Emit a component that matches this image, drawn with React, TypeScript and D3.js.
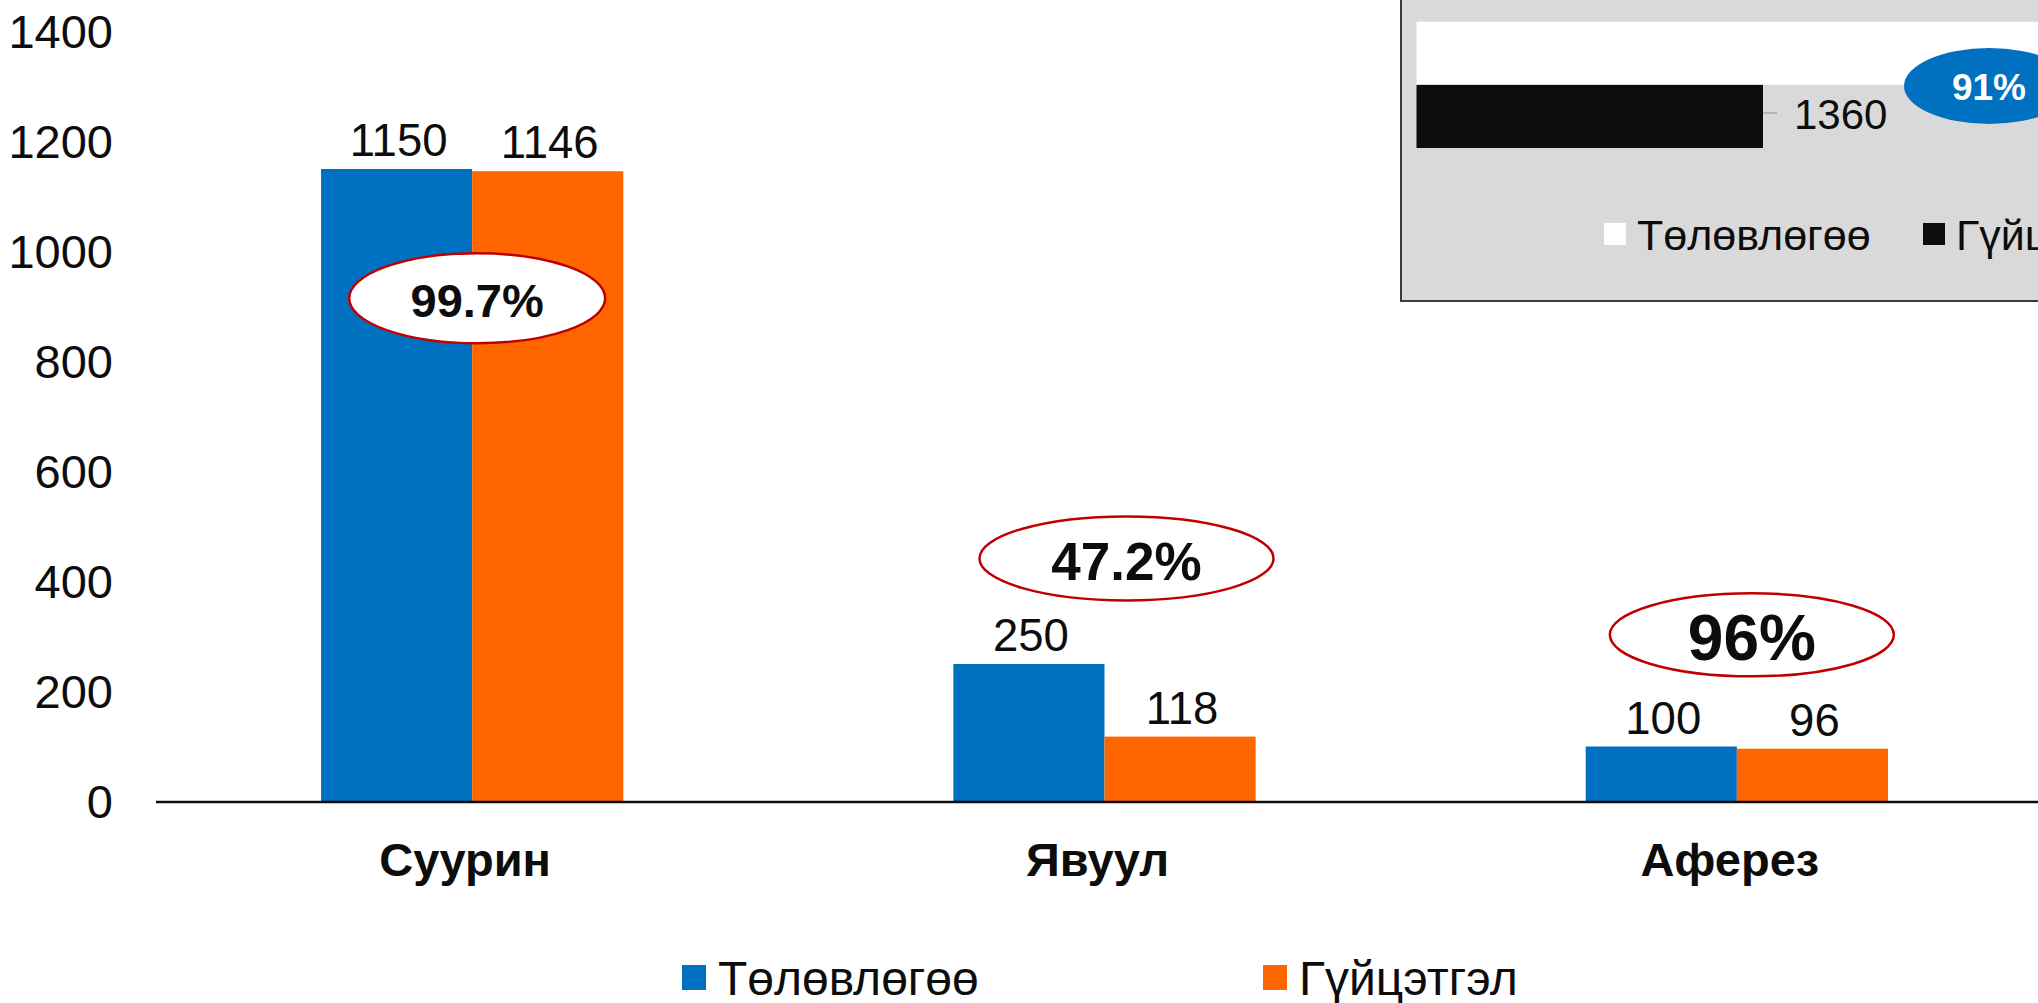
import React, { useEffect } from "react";
import * as d3 from "d3";

// ---- data ----
const categories = ["Суурин", "Явуул", "Аферез"];
const seriesNames = ["Төлөвлөгөө", "Гүйцэтгэл"];
const planValues = [1150, 250, 100];
const actualValues = [1146, 118, 96];
const percentLabels = ["99.7%", "47.2%", "96%"];
const yTicks = [0, 200, 400, 600, 800, 1000, 1200, 1400];

const insetCategories = ["Төлөвлөгөө", "Гүйцэтгэл"];
const insetValues = [1500, 1360];
const insetPercent = "91%";

// ---- layout ----
const W = 2038;
const H = 1003;
const FONT = "'Liberation Sans', Arial, Helvetica, sans-serif";
const TEXT = "#0d0d0d";
const BLUE = "#0070c0";
const ORANGE = "#ff6600";
const RED = "#c00000";
const seriesColors = [BLUE, ORANGE];

// annotation bubbles: anchor in value units (y), x offset from group centre
const bubbles = [
  { dx: 5, v: 915, rx: 128, ry: 45, fs: 47, base: 19 },
  { dx: 22, v: 442, rx: 147, ry: 42, fs: 53, base: 22 },
  { dx: 15, v: 303, rx: 142, ry: 41.5, fs: 64, base: 25 },
];

export default function App() {
  useEffect(() => {
    document.body.style.margin = "0";
    document.body.style.overflow = "hidden";
  }, []);

  const x = d3.scaleBand<string>().domain(categories).range([156, 2053]).padding(0);
  const groupW = x.bandwidth() * 0.478;
  const xs = d3.scaleBand<string>().domain(seriesNames).range([0, groupW]).padding(0);
  const y = d3.scaleLinear().domain([0, 1400]).range([801.5, 31.5]);
  const groupX = (c: string) => (x(c) as number) + (x.bandwidth() - groupW) / 2;
  const groupC = (c: string) => (x(c) as number) + x.bandwidth() / 2;

  const series = [planValues, actualValues];

  // inset scales
  const insetLeft = 1416.5;
  const ix = d3.scaleLinear().domain([1200, 1600]).range([insetLeft, insetLeft + 400 * (346.5 / 160)]);
  const iy = d3.scaleBand<string>().domain(insetCategories).range([21.7, 148]).padding(0);
  const insetColors = ["#ffffff", "#0d0d0d"];

  return (
    <svg width={W} height={H} viewBox={`0 0 ${W} ${H}`} style={{ display: "block", background: "#fff" }} fontFamily={FONT}>
      {/* y tick labels */}
      {yTicks.map((t) => (
        <text key={t} x={113} y={y(t)} dy="0.355em" textAnchor="end" fontSize={47} fill={TEXT}>
          {t}
        </text>
      ))}

      {/* bars */}
      {categories.map((c, i) => (
        <g key={c}>
          {series.map((s, j) => {
            const bx = groupX(c) + (xs(seriesNames[j]) as number);
            return (
              <rect
                key={j}
                x={bx}
                y={y(s[i])}
                width={xs.bandwidth()}
                height={y(0) - y(s[i])}
                fill={seriesColors[j]}
              />
            );
          })}
        </g>
      ))}

      {/* axis line */}
      <line x1={156} x2={W} y1={y(0) + 0.5} y2={y(0) + 0.5} stroke={TEXT} strokeWidth={2.5} />

      {/* value labels */}
      {categories.map((c, i) =>
        series.map((s, j) => {
          const bx = groupX(c) + (xs(seriesNames[j]) as number) + xs.bandwidth() / 2;
          return (
            <text key={`${c}-${j}`} x={bx + 2} y={y(s[i]) - 13} textAnchor="middle" fontSize={45.5} fill={TEXT}>
              {s[i]}
            </text>
          );
        })
      )}

      {/* category labels */}
      {categories.map((c) => (
        <text key={c} x={groupC(c) - 7} y={876} textAnchor="middle" fontSize={47} fontWeight="bold" fill={TEXT}>
          {c}
        </text>
      ))}

      {/* percentage bubbles */}
      {categories.map((c, i) => {
        const b = bubbles[i];
        const cx = groupC(c) + b.dx;
        const cy = y(b.v);
        return (
          <g key={`b-${c}`}>
            <ellipse cx={cx} cy={cy} rx={b.rx} ry={b.ry} fill="#ffffff" stroke={RED} strokeWidth={2.5} />
            <text x={cx} y={cy + b.base} textAnchor="middle" fontSize={b.fs} fontWeight="bold" fill={TEXT}>
              {percentLabels[i]}
            </text>
          </g>
        );
      })}

      {/* legend */}
      {seriesNames.map((n, j) => {
        const lx = [682, 1263][j];
        return (
          <g key={n}>
            <rect x={lx} y={965} width={24} height={25} fill={seriesColors[j]} />
            <text x={lx + 36} y={995} fontSize={48} fill={TEXT}>
              {n}
            </text>
          </g>
        );
      })}

      {/* inset chart */}
      <g>
        <rect x={1401} y={-10} width={700} height={311} fill="#d9d9d9" stroke="#3a3a3a" strokeWidth={2} />
        {insetCategories.map((c, k) => (
          <rect
            key={c}
            x={ix(1200)}
            y={iy(c) as number}
            width={ix(insetValues[k]) - ix(1200)}
            height={iy.bandwidth()}
            fill={insetColors[k]}
          />
        ))}
        <line
          x1={ix(insetValues[1])}
          x2={ix(insetValues[1]) + 14}
          y1={113}
          y2={113}
          stroke="#a6a6a6"
          strokeWidth={1.5}
        />
        <text x={ix(insetValues[1]) + 31} y={129} fontSize={42} fill={TEXT}>
          {insetValues[1]}
        </text>
        <ellipse cx={1989} cy={86} rx={85} ry={38} fill={BLUE} />
        <text x={1989} y={100} textAnchor="middle" fontSize={37} fontWeight="bold" fill="#ffffff">
          {insetPercent}
        </text>
        {insetCategories.map((c, k) => {
          const lx = [1604, 1923][k];
          return (
            <g key={`il-${c}`}>
              <rect x={lx} y={223} width={22} height={22} fill={insetColors[k]} />
              <text x={lx + 33} y={250} fontSize={43} fill={TEXT}>
                {c}
              </text>
            </g>
          );
        })}
      </g>
    </svg>
  );
}
